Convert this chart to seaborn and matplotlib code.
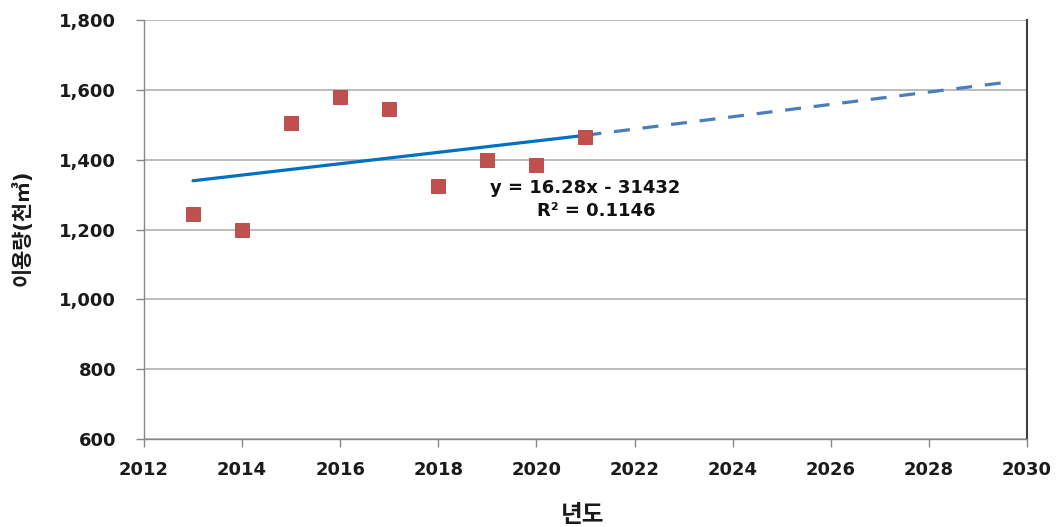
import matplotlib
matplotlib.use("Agg")
import matplotlib.pyplot as plt
import seaborn as sns
import pandas as pd

# Annual usage (thousand m³)
years = [2013, 2014, 2015, 2016, 2017, 2018, 2019, 2020, 2021]
usage = [1244, 1200, 1505, 1580, 1544, 1325, 1399, 1386, 1466]

# Linear trend as reported: y = 16.28x - 31432
slope = 16.28
intercept = -31432
r_squared = 0.1146

# Forecast extension of the trend
forecast_years = [2021, 2029.6]
forecast_usage = [1470, 1622]

x_ticks = list(range(2012, 2031, 2))
y_ticks = list(range(600, 1801, 200))

sns.set_theme(style="white")
plt.rcParams["font.family"] = ["DejaVu Sans", "Noto Sans CJK KR"]

fig = plt.figure(figsize=(10.57, 5.27), dpi=100)
ax = fig.add_axes([0.1362, 0.167, 0.8354, 0.795])

df = pd.DataFrame({"year": years, "usage": usage})
trend = pd.DataFrame({"year": [years[0], years[-1]]})
trend["usage"] = slope * trend["year"] + intercept
fc = pd.DataFrame({"year": forecast_years, "usage": forecast_usage})

sns.lineplot(data=trend, x="year", y="usage", ax=ax, color="#0070C0",
             linewidth=2.3, zorder=3)
sns.lineplot(data=fc, x="year", y="usage", ax=ax, color="#4A7EBB",
             linewidth=2.3, zorder=3)
ax.lines[-1].set_linestyle((0, (5, 4)))
sns.scatterplot(data=df, x="year", y="usage", ax=ax, marker="s", s=90,
                color="#C0504D", edgecolor="#B8403D", linewidth=0.6, zorder=4)

ax.set_xlim(2012, 2030)
ax.set_ylim(600, 1800)
ax.set_xticks(x_ticks)
ax.set_yticks(y_ticks)
ax.set_xticklabels([str(t) for t in x_ticks], fontsize=13, fontweight="bold",
                   color="#1a1a1a")
ax.set_yticklabels([f"{t:,}" for t in y_ticks], fontsize=13, fontweight="bold",
                   color="#1a1a1a")

ax.grid(axis="y", color="#B0B0B0", linewidth=1.2)
ax.set_axisbelow(True)
ax.tick_params(axis="both", which="both", length=6, width=1, color="#888888",
               direction="out", left=True, bottom=True)
ax.tick_params(axis="y", pad=14)
ax.tick_params(axis="x", pad=10)
for side in ["left", "bottom"]:
    ax.spines[side].set_color("#888888")
    ax.spines[side].set_linewidth(1.0)
ax.spines["top"].set_visible(False)
ax.spines["right"].set_color("#404040")
ax.spines["right"].set_linewidth(1.5)

ax.set_xlabel("년도", fontsize=17, fontweight="bold", color="#1a1a1a")
ax.set_ylabel("이용량(천㎥)", fontsize=15, fontweight="bold", color="#1a1a1a")
ax.xaxis.set_label_coords(0.497, -0.153)
ax.yaxis.set_label_coords(-0.1257, 0.504)

ax.text(2019.05, 1319, f"y = {slope:.2f}x - {abs(intercept)}", fontsize=13,
        fontweight="bold", ha="left", va="center", color="#111111")
ax.text(2021.21, 1253, f"R² = {r_squared:.4f}", fontsize=13,
        fontweight="bold", ha="center", va="center", color="#111111")

fig.savefig("out.png", dpi=100)
